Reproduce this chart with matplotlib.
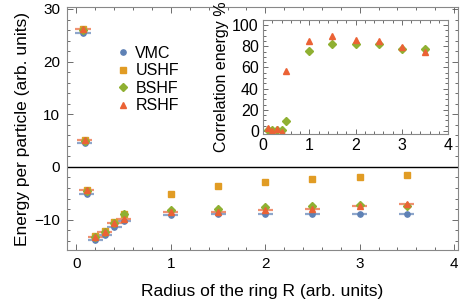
import matplotlib.pyplot as plt
from matplotlib.ticker import MultipleLocator

plt.rcParams['font.family'] = ['Liberation Sans', 'DejaVu Sans']

# main panel: energy per particle vs ring radius
R = [0.07, 0.09, 0.11, 0.2, 0.3, 0.4, 0.5, 1.0, 1.5, 2.0, 2.5, 3.0, 3.5]
vmc = [25.5, 4.6, -5.1, -13.8, -13.0, -11.4, -10.2, -9.1, -8.9, -8.9, -8.9, -8.9, -8.9]
ushf = [26.2, 5.1, -4.4, -13.2, -12.1, -10.5, -8.9, -5.2, -3.7, -2.8, -2.3, -1.9, -1.6]
bshf = [26.1, 5.0, -4.5, -13.3, -12.3, -10.6, -9.0, -8.1, -7.9, -7.7, -7.5, -7.2, -7.4]
rshf = [26.2, 5.1, -4.4, -13.3, -12.4, -10.6, -9.8, -8.5, -8.5, -8.1, -7.9, -7.5, -7.1]

# inset: correlation energy recovered (%)
R_in = [0.1, 0.2, 0.3, 0.4, 0.5, 1.0, 1.5, 2.0, 2.5, 3.0, 3.5]
corr_bshf = [1.0, 0.5, 1.0, 0.5, 9.4, 75.8, 82.4, 82.4, 82.0, 77.4, 77.4]
corr_rshf = [2.5, 0.0, 2.0, -0.5, 57.0, 84.6, 89.3, 86.0, 85.0, 79.0, 75.0]

c_vmc = '#5E81B5'
c_ushf = '#E19C24'
c_bshf = '#8FB032'
c_rshf = '#EB6235'

fig = plt.figure(figsize=(4.63, 3.08), dpi=100)
ax = fig.add_axes([0.1447, 0.188, 0.8443, 0.788])

# horizontal bars under VMC and RSHF points
ax.errorbar(R, vmc, xerr=0.08, fmt='none', ecolor=c_vmc, elinewidth=1.6, alpha=0.7, capsize=0)
ax.errorbar(R, rshf, xerr=0.08, fmt='none', ecolor=c_rshf, elinewidth=1.6, alpha=0.7, capsize=0)

ax.plot(R, vmc, 'o', color=c_vmc, ms=3.8, label='VMC')
ax.plot(R, ushf, 's', color=c_ushf, ms=4.2, label='USHF')
ax.plot(R, bshf, 'D', color=c_bshf, ms=3.6, label='BSHF')
ax.plot(R, rshf, '^', color=c_rshf, ms=4.5, label='RSHF')

ax.axhline(0, color='black', lw=1.0)
ax.set_xlim(-0.1, 4.04)
ax.set_ylim(-15.8, 30.3)
ax.xaxis.set_major_locator(MultipleLocator(1))
ax.xaxis.set_minor_locator(MultipleLocator(0.2))
ax.yaxis.set_major_locator(MultipleLocator(10))
ax.yaxis.set_minor_locator(MultipleLocator(2))
ax.tick_params(which='both', direction='in', top=True, right=True, labelsize=11, width=0.6, color='#555555')
ax.tick_params(which='major', length=4, pad=5)
ax.tick_params(which='minor', length=2)
ax.set_xlabel('Radius of the ring R (arb. units)', fontsize=12.5, labelpad=9)
ax.set_ylabel('Energy per particle (arb. units)', fontsize=12.5, labelpad=3)
for s in ax.spines.values():
    s.set_color('#888888')
    s.set_linewidth(0.8)

leg = ax.legend(loc='upper left', bbox_to_anchor=(0.085, 0.90), frameon=False, fontsize=11.5,
                handletextpad=0.3, labelspacing=0.15, handlelength=1.0)

# inset
ins = fig.add_axes([0.568, 0.565, 0.40, 0.37])
ins.set_facecolor('white')
ins.plot(R_in, corr_bshf, 'D', color=c_bshf, ms=3.6)
ins.plot(R_in, corr_rshf, '^', color=c_rshf, ms=4.8)
ins.set_xlim(0, 4)
ins.set_ylim(-2.8, 104.7)
ins.xaxis.set_major_locator(MultipleLocator(1))
ins.xaxis.set_minor_locator(MultipleLocator(0.2))
ins.yaxis.set_major_locator(MultipleLocator(20))
ins.yaxis.set_minor_locator(MultipleLocator(5))
ins.tick_params(which='both', direction='in', top=True, right=True, labelsize=11.5, width=0.6, color='#555555')
ins.tick_params(which='major', length=3.5, pad=3)
ins.tick_params(which='minor', length=2)
ins.set_ylabel('Correlation energy %', fontsize=11.5, labelpad=2)
for s in ins.spines.values():
    s.set_color('#888888')
    s.set_linewidth(0.8)

fig.savefig('out.png', dpi=100)
